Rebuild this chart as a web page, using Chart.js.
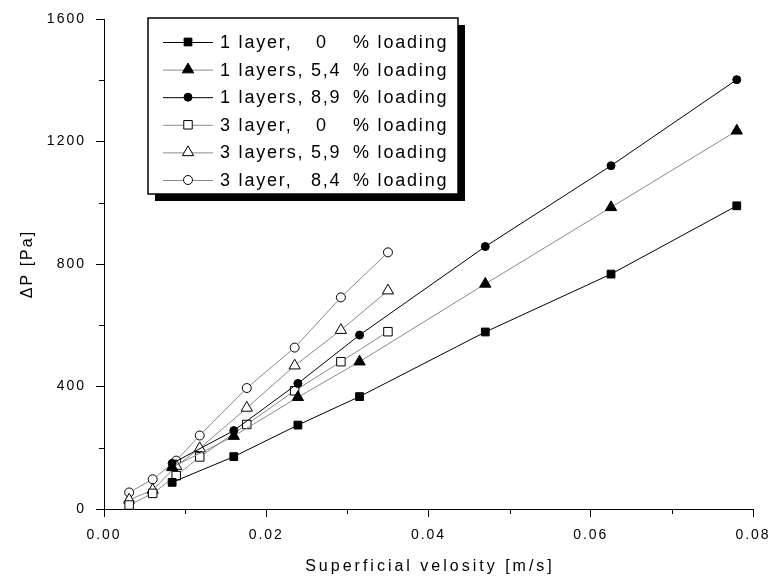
<!DOCTYPE html>
<html>
<head>
    <title>Pressure drop vs superficial velocity</title>
    <script src="https://cdnjs.cloudflare.com/ajax/libs/Chart.js/4.4.1/chart.umd.min.js"></script>
    <style>
        body { margin: 0; background: #fff; }
        #myChart { display: block; }
    </style>
</head>
<body>
    <canvas id="myChart" width="771" height="579"></canvas>

    <script>
        // values
        const seriesLabels = [
            '1 layer,   0    % loading',
            '1 layers, 5,4 % loading',
            '1 layers, 8,9 % loading',
            '3 layer,   0    % loading',
            '3 layers, 5,9 % loading',
            '3 layer,   8,4 % loading'
        ];
        const velocity1 = [0.0084, 0.0160, 0.0239, 0.0315, 0.0470, 0.0625, 0.0780];
        const dp1Load0 = [87, 171, 274, 367, 578, 767, 990];
        const dp1Load54 = [136, 238, 365, 481, 735, 985, 1235];
        const dp1Load89 = [149, 256, 410, 568, 857, 1121, 1402];
        const velocity3 = [0.0031, 0.0060, 0.0089, 0.0118, 0.0176, 0.0235, 0.0292, 0.0350];
        const dp3Load0 = [13, 51, 109, 170, 276, 386, 481, 579];
        const dp3Load59 = [30, 62, 140, 198, 330, 468, 584, 713];
        const dp3Load84 = [54, 97, 158, 240, 395, 527, 691, 838];
        const xTicks = [0, 0.02, 0.04, 0.06, 0.08];
        const yTicks = [0, 400, 800, 1200, 1600];
        const xTitle = 'Superficial velosity [m/s]';
        const yTitle = '\u0394P [Pa]';

        const toPoints = (xs, ys) => xs.map((x, i) => ({ x: x, y: ys[i] }));

        function series(label, xs, ys, lineColor, style, radius, filled) {
            return {
                label: label,
                data: toPoints(xs, ys),
                borderColor: lineColor,
                borderWidth: 1,
                pointStyle: style,
                pointRadius: radius,
                pointBorderColor: '#000',
                pointBorderWidth: 1,
                pointBackgroundColor: filled ? '#000' : '#fff',
                fill: false,
                tension: 0
            };
        }

        const datasets = [
            series(seriesLabels[0], velocity1, dp1Load0, '#000', 'rect', 5.5, true),
            series(seriesLabels[1], velocity1, dp1Load54, '#8a8a8a', 'triangle', 6.5, true),
            series(seriesLabels[2], velocity1, dp1Load89, '#000', 'circle', 4, true),
            series(seriesLabels[3], velocity3, dp3Load0, '#8a8a8a', 'rect', 6, false),
            series(seriesLabels[4], velocity3, dp3Load59, '#8a8a8a', 'triangle', 6.5, false),
            series(seriesLabels[5], velocity3, dp3Load84, '#8a8a8a', 'circle', 4.5, false)
        ];

        // wide letter spacing like the original bitmap font
        const spacing = {
            id: 'spacing',
            beforeDraw(chart) { chart.ctx.letterSpacing = '2px'; }
        };

        // minor ticks halfway between the major ones, plus the x title
        const minorTicks = {
            id: 'minorTicks',
            afterDraw(chart) {
                const ctx = chart.ctx;
                const xs = chart.scales.x, ys = chart.scales.y;
                ctx.save();
                ctx.strokeStyle = '#000';
                ctx.lineWidth = 1;
                ctx.beginPath();
                for (let i = 0; i < xTicks.length - 1; i++) {
                    const px = Math.round(xs.getPixelForValue((xTicks[i] + xTicks[i + 1]) / 2)) + 0.5;
                    ctx.moveTo(px, xs.top);
                    ctx.lineTo(px, xs.top + 5);
                }
                for (let i = 0; i < yTicks.length - 1; i++) {
                    const py = Math.round(ys.getPixelForValue((yTicks[i] + yTicks[i + 1]) / 2)) + 0.5;
                    ctx.moveTo(ys.right, py);
                    ctx.lineTo(ys.right - 5, py);
                }
                ctx.stroke();

                ctx.letterSpacing = '3px';
                ctx.font = '16px "Liberation Sans", Arial, sans-serif';
                ctx.fillStyle = '#000';
                ctx.textAlign = 'center';
                ctx.textBaseline = 'middle';
                const cx = (chart.chartArea.left + chart.chartArea.right) / 2;
                ctx.fillText(xTitle, cx + 1.5, 567);
                ctx.restore();
            }
        };

        // boxed legend with drop shadow
        const boxLegend = {
            id: 'boxLegend',
            afterDraw(chart) {
                const ctx = chart.ctx;
                const left = 148, top = 18, w = 310, h = 176;
                ctx.save();
                ctx.fillStyle = '#000';
                ctx.fillRect(left + 7, top + 7, w, h);
                ctx.fillStyle = '#fff';
                ctx.fillRect(left, top, w, h);
                ctx.strokeStyle = '#000';
                ctx.lineWidth = 1.5;
                ctx.strokeRect(left, top, w, h);

                ctx.font = '18px "Liberation Sans", Arial, sans-serif';
                ctx.letterSpacing = '1.8px';
                ctx.textBaseline = 'middle';
                chart.data.datasets.forEach((ds, i) => {
                    const y = 42 + i * 27.6;
                    ctx.strokeStyle = ds.borderColor;
                    ctx.lineWidth = 1;
                    ctx.beginPath();
                    ctx.moveTo(163, y + 0.5);
                    ctx.lineTo(213, y + 0.5);
                    ctx.stroke();
                    ctx.fillStyle = ds.pointBackgroundColor;
                    ctx.strokeStyle = '#000';
                    Chart.helpers.drawPoint(ctx, {
                        pointStyle: ds.pointStyle,
                        radius: ds.pointRadius,
                        borderWidth: 1,
                        rotation: 0
                    }, 188, y);

                    const parts = ds.label.match(/^(.*?,)\s*(\S*)\s*(%.*)$/);
                    ctx.fillStyle = '#000';
                    ctx.fillText(parts[1], 220, y + 1);
                    ctx.fillText(parts[2], parts[2].length > 1 ? 311 : 316, y + 1);
                    ctx.fillText(parts[3], 353, y + 1);
                });
                ctx.restore();
            }
        };

        const tickFont = { family: '"Liberation Sans", Arial, sans-serif', size: 14 };

        const ctx = document.getElementById('myChart').getContext('2d');
        new Chart(ctx, {
            type: 'line',
            data: { datasets: datasets },
            plugins: [spacing, minorTicks, boxLegend],
            options: {
                responsive: false,
                animation: false,
                layout: { padding: { left: 0, right: 18, top: 19, bottom: 0 } },
                plugins: {
                    legend: { display: false },
                    tooltip: { enabled: false }
                },
                scales: {
                    x: {
                        type: 'linear',
                        min: 0,
                        max: 0.08,
                        afterFit: s => {
                            s.height = 70;
                            s.paddingLeft = 0;
                            s.paddingRight = 0;
                        },
                        afterBuildTicks: s => { s.ticks = xTicks.map(v => ({ value: v })); },
                        border: { color: '#000', width: 1 },
                        grid: { drawOnChartArea: false, tickLength: 8, color: '#000' },
                        ticks: {
                            color: '#000',
                            font: tickFont,
                            padding: 10,
                            maxRotation: 0,
                            callback: v => v.toFixed(2)
                        },
                        title: { display: false }
                    },
                    y: {
                        min: 0,
                        max: 1600,
                        afterFit: s => {
                            s.width = 104;
                            s.paddingTop = 0;
                            s.paddingBottom = 0;
                        },
                        afterBuildTicks: s => { s.ticks = yTicks.map(v => ({ value: v })); },
                        border: { color: '#000', width: 1 },
                        grid: { drawOnChartArea: false, tickLength: 8, color: '#000' },
                        ticks: {
                            color: '#000',
                            font: tickFont,
                            padding: 10,
                            callback: v => String(v)
                        },
                        title: {
                            display: true,
                            text: yTitle,
                            color: '#000',
                            font: { family: '"Liberation Sans", Arial, sans-serif', size: 16 },
                            padding: { top: 18, bottom: 4 }
                        }
                    }
                }
            }
        });
    </script>
</body>
</html>
